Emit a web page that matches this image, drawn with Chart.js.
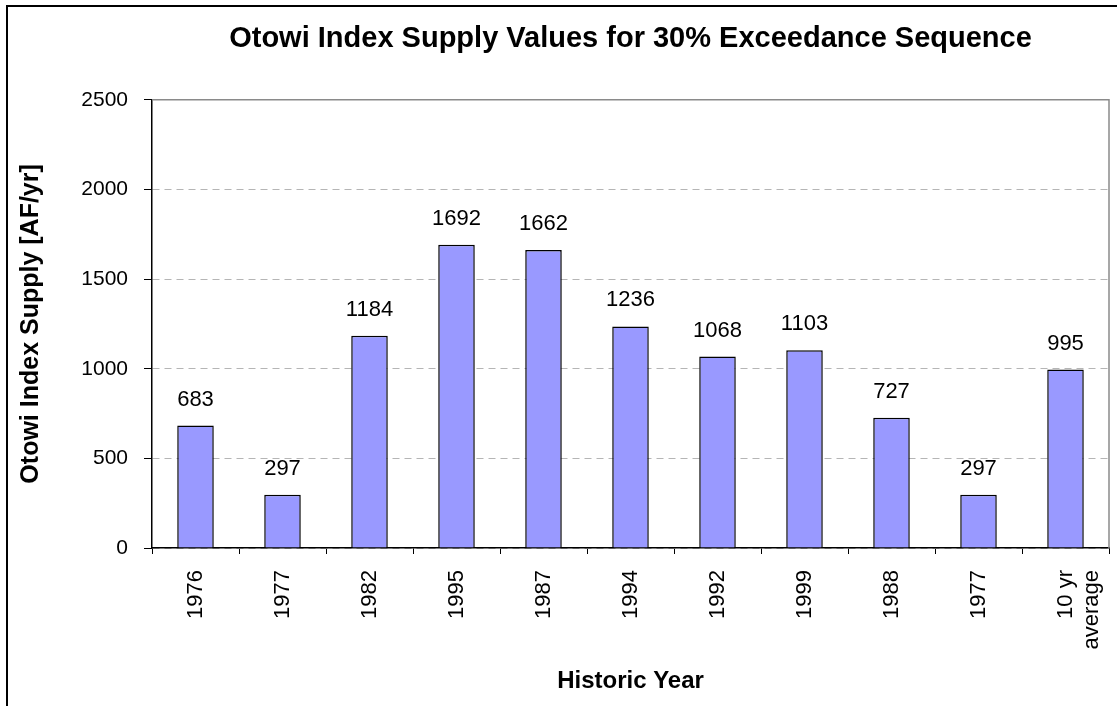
<!DOCTYPE html>
<html>
<head>
<meta charset="utf-8">
<script src="https://cdn.jsdelivr.net/npm/chart.js@4.4.0/dist/chart.umd.min.js"></script>
<style>
  html, body { margin: 0; padding: 0; background: #fff; }
  #wrap { position: relative; width: 1117px; height: 706px; }
</style>
</head>
<body>
<div id="wrap"><canvas id="otowiChart" width="1117" height="706"></canvas></div>
<script>
// Dados do gráfico
const years = ['1976', '1977', '1982', '1995', '1987', '1994', '1992', '1999', '1988', '1977', ['10 yr', 'average']];
const supplyValues = [683, 297, 1184, 1692, 1662, 1236, 1068, 1103, 727, 297, 995];
const yTicks = [0, 500, 1000, 1500, 2000, 2500];

const fontFamily = '"Liberation Sans", Arial, sans-serif';

// Moldura externa e borda superior/direita da área do gráfico.
const framePlugin = {
    id: 'frame',
    beforeDraw(chart) {
        const ctx = chart.ctx;
        ctx.save();
        ctx.fillStyle = '#fff';
        ctx.fillRect(0, 0, chart.width, chart.height);
        ctx.strokeStyle = '#000';
        ctx.lineWidth = 2;
        ctx.beginPath();
        ctx.moveTo(7, chart.height);
        ctx.lineTo(7, 6);
        ctx.lineTo(chart.width, 6);
        ctx.stroke();
        ctx.restore();
    },
    afterDraw(chart) {
        const { ctx, chartArea } = chart;
        ctx.save();
        ctx.strokeStyle = '#8a8a8a';
        ctx.lineWidth = 1.5;
        ctx.beginPath();
        ctx.moveTo(chartArea.left, chartArea.top);
        ctx.lineTo(chartArea.right, chartArea.top);
        ctx.lineTo(chartArea.right, chartArea.bottom);
        ctx.stroke();
        ctx.restore();
    }
};

// Rótulos de valor acima das barras.
const valueLabels = {
    id: 'valueLabels',
    afterDatasetsDraw(chart) {
        const ctx = chart.ctx;
        const meta = chart.getDatasetMeta(0);
        ctx.save();
        ctx.font = '22px ' + fontFamily;
        ctx.fillStyle = '#000';
        ctx.textAlign = 'center';
        ctx.textBaseline = 'alphabetic';
        meta.data.forEach((bar, i) => {
            ctx.fillText(String(supplyValues[i]), bar.x, bar.y - 20);
        });
        ctx.restore();
    }
};

new Chart(document.getElementById('otowiChart'), {
    type: 'bar',
    data: {
        labels: years,
        datasets: [{
            data: supplyValues,
            backgroundColor: '#9999FF',
            borderColor: '#000',
            borderWidth: 1.5,
            categoryPercentage: 1,
            barPercentage: 0.42
        }]
    },
    options: {
        responsive: false,
        animation: false,
        layout: { padding: { left: 10, right: 8, top: 0, bottom: 6 } },
        plugins: {
            legend: { display: false },
            tooltip: { enabled: false },
            title: {
                display: true,
                fullSize: false,
                text: 'Otowi Index Supply Values for 30% Exceedance Sequence',
                color: '#000',
                font: { family: fontFamily, size: 29, weight: 'bold' },
                padding: { top: 22, bottom: 43 }
            }
        },
        scales: {
            x: {
                grid: {
                    offset: true,
                    drawOnChartArea: false,
                    drawTicks: true,
                    tickLength: 6,
                    tickColor: '#000'
                },
                border: { color: '#000', width: 1.5 },
                ticks: {
                    color: '#000',
                    font: { family: fontFamily, size: 22 },
                    minRotation: 90,
                    maxRotation: 90,
                    autoSkip: false,
                    padding: 16
                },
                title: {
                    display: true,
                    text: 'Historic Year',
                    color: '#000',
                    font: { family: fontFamily, size: 24, weight: 'bold' },
                    padding: { top: 0, bottom: 4 }
                },
                afterFit(scale) {
                    scale.height = 706 - 6 - 548;
                    scale.paddingLeft = 0;
                    scale.paddingRight = 0;
                }
            },
            y: {
                min: 0,
                max: 2500,
                afterBuildTicks(scale) { scale.ticks = yTicks.map(v => ({ value: v })); },
                grid: {
                    color: '#b5b5b5',
                    lineWidth: 1,
                    tickColor: '#000',
                    tickLength: 8,
                    tickBorderDash: [],
                    drawTicks: true
                },
                border: { color: '#000', width: 1.5, dash: [7, 5] },
                ticks: {
                    color: '#000',
                    font: { family: fontFamily, size: 21 },
                    padding: 16,
                    callback: (value) => String(value)
                },
                title: {
                    display: true,
                    text: 'Otowi Index Supply [AF/yr]',
                    color: '#000',
                    font: { family: fontFamily, size: 25, weight: 'bold' },
                    padding: { top: 6, bottom: 0 }
                },
                afterFit(scale) {
                    scale.width = 152 - 10;
                    scale.paddingTop = 0;
                    scale.paddingBottom = 0;
                }
            }
        }
    },
    plugins: [framePlugin, valueLabels]
});
</script>
</body>
</html>
